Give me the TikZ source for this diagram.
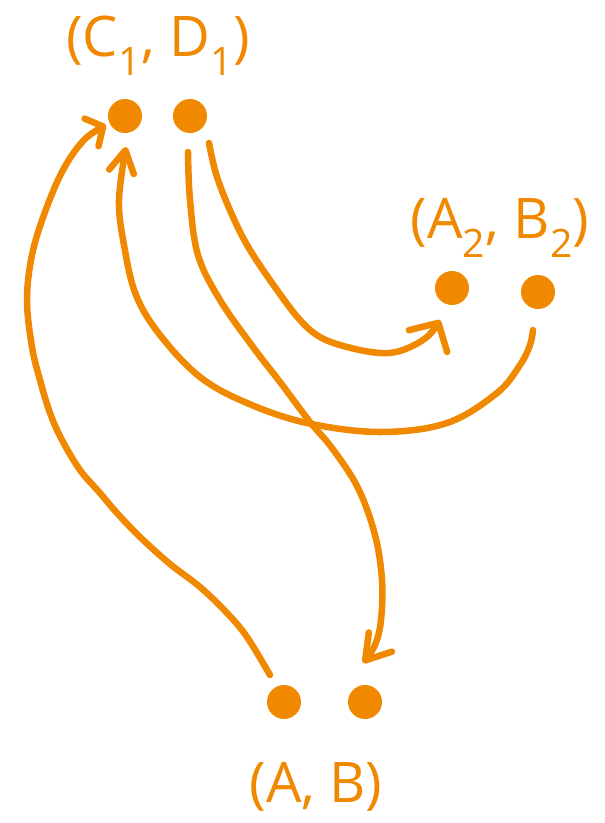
\documentclass[tikz,border=0pt]{standalone}
\usepackage{fontspec}
\setmainfont{Open Sans}
\usetikzlibrary{arrows.meta,calc}
\definecolor{hand}{RGB}{240,137,0}
\begin{document}
\begin{tikzpicture}[x=1pt,y=-1pt,
  dot/.style={circle,fill=hand,draw=none,minimum size=34pt,inner sep=0pt},
  lbl/.style={text=hand,inner sep=0pt,font=\fontsize{56}{62}\selectfont},
  conn/.style={draw=hand,line width=6.5pt,line cap=round,line join=round},
  handtip/.style n args={2}{-{Straight Barb[length=#1,width=#2,round]}}]
\useasboundingbox (0,0) rectangle (605,823);
% dots
\node[dot] (C1) at (125,116) {};
\node[dot] (D1) at (190,116) {};
\node[dot] (A2) at (452,288) {};
\node[dot] (B2) at (538,292) {};
\node[dot] (A)  at (284,702) {};
\node[dot] (B)  at (365,702) {};
% labels
\node[lbl] (lCD) at (158,46) {(C\textsubscript{1}, D\textsubscript{1})};
\node[lbl] (lAB2) at (500,228) {(A\textsubscript{2}, B\textsubscript{2})};
\node[lbl] (lAB) at (316,787) {(A, B)};
% connector ends
\coordinate (s1) at ($(A)+(-14,-27)$);
\coordinate (e1) at ($(C1)+(-19,9)$);
\coordinate (s2) at ($(B2)+(-5,38)$);
\coordinate (e2) at ($(C1)+(1,31)$);
\coordinate (s3) at ($(D1)+(-2,36)$);
\coordinate (e3) at ($(B)+(-2,-39)$);
\coordinate (s4) at ($(D1)+(19,27)$);
\coordinate (e4) at ($(A2)+(-12,32)$);
% connectors
\draw[conn,handtip={13pt}{31pt}] plot[smooth,tension=0.6] coordinates {
  (s1) (247,637) (227,613) (200,587) (170,564) (140,537) (117,513) (100,493)
  (80,470) (62,440) (50,413) (40,380) (32,347) (27,300) (32,255) (45,212)
  (63,170) (84,140) (e1)};
\draw[conn,handtip={22pt}{25pt}] plot[smooth,tension=0.6] coordinates {
  (s2) (530,345) (520,365) (497,393) (447,423) (380,432) (307,423) (247,403)
  (200,377) (160,335) (136,295) (124,245) (119,200) (e2)};
\draw[conn,handtip={24pt}{30pt}] plot[smooth,tension=0.6] coordinates {
  (s3) (190,200) (198,255) (220,300) (253,347) (280,382) (310,422) (332,448)
  (358,488) (375,535) (382,580) (381,620) (375,645) (e3)};
\draw[conn,handtip={21pt}{44pt}] plot[smooth,tension=0.6] coordinates {
  (s4) (217,177) (233,217) (250,250) (277,290) (300,320) (320,337) (347,347)
  (380,353) (403,350) (427,337) (e4)};
\end{tikzpicture}
\end{document}
